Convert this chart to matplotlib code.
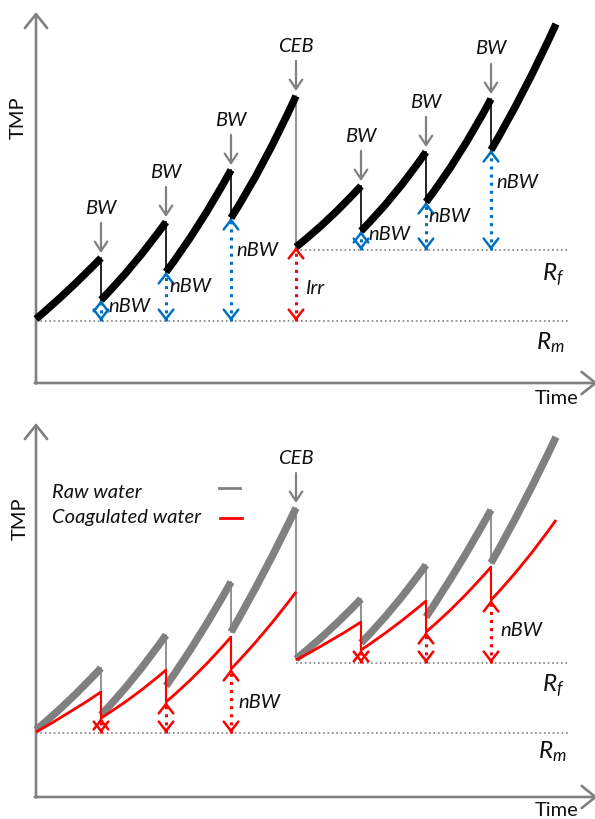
import matplotlib
matplotlib.use('Agg')
import matplotlib.pyplot as plt
from matplotlib.path import Path
from matplotlib.patches import PathPatch

plt.rcParams['font.family'] = ['Lato', 'DejaVu Sans']
plt.rcParams['mathtext.fontset'] = 'custom'
plt.rcParams['mathtext.rm'] = 'Lato'
plt.rcParams['mathtext.it'] = 'Lato:italic'

# ---------------- data ----------------
# filtration cycle boundaries (time units); segment i runs from times[i] to times[i+1]
times = [0, 1, 2, 3, 4, 5, 6, 7, 8]
events = ['BW', 'BW', 'BW', 'CEB', 'BW', 'BW', 'BW']   # event at end of each cycle

# Top panel TMP per cycle (start, middle, end)
top_start = [6.4, 8.3, 11.1, 16.5, 13.6, 15.2, 18.1, 23.3]
top_mid   = [9.3, 11.9, 15.8, 22.1, 16.4, 18.8, 22.8, 29.2]
top_end   = [12.5, 16.1, 21.3, 28.7, 19.7, 23.1, 28.4, 35.9]
top_Rm = 6.2
top_Rf = 13.3

# Bottom panel: raw water (gray) and coagulated water (red)
raw_start = [6.7, 8.2, 11.1, 16.5, 13.8, 15.4, 18.0, 23.4]
raw_mid   = [9.6, 11.9, 16.0, 22.4, 16.6, 19.0, 23.1, 29.4]
raw_end   = [12.9, 16.2, 21.5, 28.9, 19.8, 23.2, 28.7, 36.0]
coag_start = [6.5, 7.9, 9.5, 12.8, 13.7, 14.7, 16.5, 19.7]
coag_mid   = [8.4, 10.1, 12.5, 16.4, 15.5, 17.0, 19.5, 23.4]
coag_end   = [10.5, 12.7, 16.0, 20.5, 17.5, 19.6, 23.0, 27.7]
bot_Rm = 6.4
bot_Rf = 13.4

GRAY = '#808080'
BLUE = '#0070C0'
RED = '#FF0000'
TXT = '#111111'
FS = 14.5

W, H = 595, 819
fig = plt.figure(figsize=(W / 100, H / 100), dpi=100)
fig.patch.set_facecolor('white')

PX_PER_T = 65.0


def make_axes(left_px, bottom_px, top_px, ymax):
    ax = fig.add_axes([left_px / W, (H - bottom_px) / H,
                       (W - left_px) / W, (bottom_px - top_px) / H])
    ax.set_xlim(0, (W - left_px) / PX_PER_T)
    ax.set_ylim(0, ymax)
    ax.axis('off')
    return ax


def curve(ax, t0, t1, y0, ym, y1, color, lw, z):
    tm = (t0 + t1) / 2
    yc = 2 * ym - (y0 + y1) / 2
    p = Path([(t0, y0), (tm, yc), (t1, y1)], [Path.MOVETO, Path.CURVE3, Path.CURVE3])
    ax.add_patch(PathPatch(p, fill=False, edgecolor=color, lw=lw,
                           capstyle='butt', zorder=z, clip_on=False))


def down_arrow(ax, t, yend, label):
    ax.annotate('', xy=(t, yend + 0.5), xytext=(t, yend + 3.5),
                arrowprops=dict(arrowstyle='->,head_length=0.45,head_width=0.3',
                                color=GRAY, lw=1.6, shrinkA=0, shrinkB=0,
                                mutation_scale=15), annotation_clip=False)
    ax.text(t, yend + 5.0, label, ha='center', va='center', fontsize=FS,
            style='italic', color=TXT)


def dbl_arrow(ax, t, ytop, ybot, color):
    ax.plot([t, t], [ybot, ytop], ls=':', color=color, lw=2.2, zorder=4,
            clip_on=False)
    for tip, tail in [(ytop, ytop - 0.3), (ybot, ybot + 0.3)]:
        ax.annotate('', xy=(t, tip), xytext=(t, tail),
                    arrowprops=dict(arrowstyle='->,head_length=0.45,head_width=0.35',
                                    color=color, lw=1.8, shrinkA=0, shrinkB=0,
                                    mutation_scale=15), annotation_clip=False)


def axes_arrows(ax, ymax):
    xmax = ax.get_xlim()[1]
    kw = dict(arrowstyle='->,head_length=0.5,head_width=0.4', color=GRAY,
              lw=1.9, shrinkA=0, shrinkB=0, mutation_scale=20)
    ax.annotate('', xy=(0, ymax), xytext=(0, -0.05), arrowprops=kw,
                annotation_clip=False)
    ax.annotate('', xy=(xmax + 0.04, 0), xytext=(-0.02, 0), arrowprops=kw,
                annotation_clip=False)


def baseline(ax, t0, t1, y):
    ax.plot([t0, t1], [y, y], ls=':', color=GRAY, lw=1.2, zorder=1, clip_on=False)


# ---------------- top panel ----------------
ax1 = make_axes(36, 383, 12, 37.1)
axes_arrows(ax1, 37.1)
baseline(ax1, 0, 8.2, top_Rm)
baseline(ax1, 4, 8.2, top_Rf)

for i in range(len(times) - 1):
    curve(ax1, times[i], times[i + 1], top_start[i], top_mid[i], top_end[i],
          'black', 5.4, 5)
for i, ev in enumerate(events):
    t = times[i + 1]
    drop_col = GRAY if ev == 'CEB' else 'black'
    ax1.plot([t, t], [top_end[i], top_start[i + 1]], color=drop_col, lw=1.2,
             zorder=4)
    down_arrow(ax1, t, top_end[i], ev)
    if ev == 'CEB':
        dbl_arrow(ax1, t, top_start[i + 1], top_Rm, RED)
    else:
        base = top_Rm if t < 4 else top_Rf
        dbl_arrow(ax1, t, top_start[i + 1], base, BLUE)

for (t, y, s) in [(1.11, 7.7, 'nBW'), (2.06, 9.7, 'nBW'), (3.08, 13.3, 'nBW'),
                  (5.11, 14.8, 'nBW'), (6.03, 16.6, 'nBW'), (7.09, 20.1, 'nBW')]:
    ax1.text(t, y, s, ha='left', va='center', fontsize=FS, style='italic', color=TXT)
ax1.text(4.14, 9.5, 'Irr', ha='left', va='center', fontsize=FS, style='italic', color=TXT)
ax1.text(7.78, 10.8, r'$R_f$', ha='left', va='center', fontsize=FS + 3, color=TXT)
ax1.text(7.7, 4.0, r'$R_m$', ha='left', va='center', fontsize=FS + 3, color=TXT)
ax1.text(7.68, -1.5, 'Time', ha='left', va='center', fontsize=FS, color=TXT)
ax1.text(-0.28, 26.5, 'TMP', ha='center', va='center', rotation=90, fontsize=FS,
         color=TXT)

# ---------------- bottom panel ----------------
ax2 = make_axes(36, 797, 423, 37.4)
axes_arrows(ax2, 37.4)
baseline(ax2, 0, 8.2, bot_Rm)
baseline(ax2, 4, 8.2, bot_Rf)

for i in range(len(times) - 1):
    curve(ax2, times[i], times[i + 1], raw_start[i], raw_mid[i], raw_end[i],
          GRAY, 5.4, 5)
    curve(ax2, times[i], times[i + 1], coag_start[i], coag_mid[i], coag_end[i],
          RED, 2.0, 6)
for i, ev in enumerate(events):
    t = times[i + 1]
    ax2.plot([t, t], [raw_end[i], raw_start[i + 1]], color=GRAY, lw=1.2, zorder=4)
    if ev == 'CEB':
        down_arrow(ax2, t, raw_end[i], ev)
    else:
        ax2.plot([t, t], [coag_end[i], coag_start[i + 1]], color=RED, lw=1.5,
                 zorder=6)
        base = bot_Rm if t < 4 else bot_Rf
        dbl_arrow(ax2, t, coag_start[i + 1], base, RED)

ax2.text(3.11, 9.5, 'nBW', ha='left', va='center', fontsize=FS, style='italic', color=TXT)
ax2.text(7.14, 16.7, 'nBW', ha='left', va='center', fontsize=FS, style='italic', color=TXT)
ax2.text(0.25, 30.5, 'Raw water', ha='left', va='center', fontsize=FS, style='italic', color=TXT)
ax2.text(0.25, 27.9, 'Coagulated water', ha='left', va='center', fontsize=FS,
         style='italic', color=TXT)
ax2.plot([2.82, 3.14], [30.9, 30.9], color=GRAY, lw=2.0)
ax2.plot([2.83, 3.17], [27.9, 27.9], color=RED, lw=2.0)
ax2.text(7.78, 11.1, r'$R_f$', ha='left', va='center', fontsize=FS + 3, color=TXT)
ax2.text(7.72, 4.5, r'$R_m$', ha='left', va='center', fontsize=FS + 3, color=TXT)
ax2.text(7.68, -1.3, 'Time', ha='left', va='center', fontsize=FS, color=TXT)
ax2.text(-0.25, 27.8, 'TMP', ha='center', va='center', rotation=90, fontsize=FS,
         color=TXT)

fig.savefig('out.png', dpi=100, facecolor='white')
